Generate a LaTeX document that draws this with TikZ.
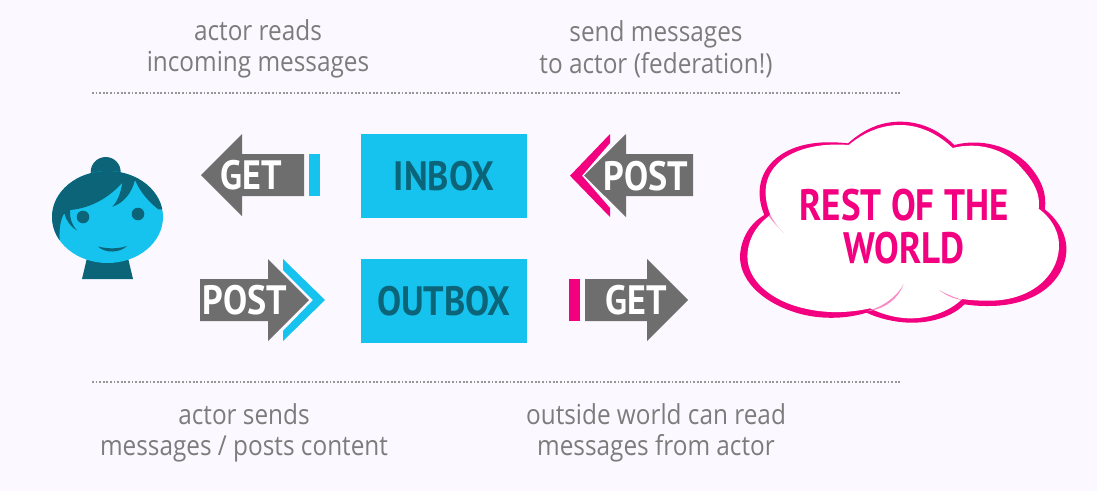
\documentclass[tikz,border=0pt]{standalone}
\usepackage{fontspec}
\setmainfont{Open Sans}
\newfontfamily\labelfont[FakeStretch=0.885]{Open Sans}
\newfontfamily\boldfont[FakeStretch=0.88]{PT Sans Bold}
\newfontfamily\cloudfont[FakeStretch=0.84]{PT Sans Bold}
\definecolor{bgc}{HTML}{FBF9FF}
\definecolor{cyanc}{HTML}{15C3EE}
\definecolor{tealc}{HTML}{0B6478}
\definecolor{pinkc}{HTML}{F2007F}
\definecolor{grayc}{HTML}{6E6E6E}
\definecolor{textc}{HTML}{7C7C7C}
\tikzset{
  caption/.style={text=textc,align=center,inner sep=0pt,font=\labelfont\fontsize{27.5}{31.5}\selectfont},
  boxlabel/.style={fill=cyanc,minimum width=166pt,minimum height=84pt,inner sep=0pt,text=tealc,font=\boldfont\fontsize{41}{41}\selectfont},
  arrowlabel/.style={text=white,inner sep=0pt,font=\boldfont\fontsize{41}{41}\selectfont},
  rule/.style={draw=textc!80,line width=1.7pt,dash pattern=on 1.7pt off 1.9pt},
  lobeline/.style={fill=pinkc!45,draw=none}
}
\begin{document}
\begin{tikzpicture}[x=1pt,y=-1pt]
\useasboundingbox (0,0) rectangle (1097,491);
\fill[bgc] (0,0) rectangle (1097,491);

% captions
\node[caption] (c1) at (258,49) {actor reads\\incoming messages};
\node[caption] (c2) at (656,49) {send messages\\to actor (federation!)};
\node[caption] (c3) at (244,433) {actor sends\\messages / posts content};
\node[caption] (c4) at (656,433) {outside world can read\\messages from actor};
\coordinate (r1a) at (92,93); \coordinate (r1b) at (900,93);
\coordinate (r2a) at (92,382); \coordinate (r2b) at (900,382);
\draw[rule] (r1a) -- (r1b);
\draw[rule] (r2a) -- (r2b);

% actor
\fill[tealc] (87,258) -- (82,279) -- (133,279) -- (128,258) -- cycle;
\fill[tealc] (105.7,172) circle (15);
\fill[cyanc] (107.5,217) ellipse (55.5 and 46);
\begin{scope}
  \clip (107.5,217) ellipse (55.5 and 46);
  \begin{scope}[shift={(30,130)},x=0.33333pt,y=-0.33333pt]
    \fill[tealc] (40,400) -- (90,345)
      .. controls (85,300) and (92,265) .. (103,250)
      .. controls (108,270) and (122,292) .. (142,302)
      .. controls (125,285) and (118,262) .. (120,240)
      .. controls (180,235) and (235,205) .. (277,158)
      .. controls (272,190) and (262,215) .. (247,230)
      .. controls (280,220) and (305,190) .. (315,150)
      .. controls (330,185) and (355,215) .. (385,238)
      -- (430,240) -- (420,50) -- (40,50) -- cycle;
  \end{scope}
\end{scope}
\fill[tealc] (83,217) circle (6.3);
\fill[tealc] (138,214) circle (6.3);
\fill[tealc] (98,246.5) .. controls (108,249) and (118,249) .. (127,246)
  .. controls (120,253) and (105,253.5) .. (98,246.5) -- cycle;

% boxes
\node[boxlabel] (inbox) at (444,176) {INBOX};
\node[boxlabel] (outbox) at (444,301) {OUTBOX};

% left arrows
\fill[grayc] (201,175) -- (242,134) -- (242,154) -- (304,154) -- (304,196) -- (242,196) -- (242,216) -- cycle;
\fill[cyanc] (309,154) rectangle (320,196);
\node[arrowlabel] (get1) at (251,175.5) {GET};

\fill[grayc] (200,279) -- (268,279) -- (268,259) -- (309,300) -- (268,341) -- (268,321) -- (200,321) -- cycle;
\fill[cyanc] (283,259) -- (325,300) -- (283,341) -- (283,331) -- (313,300) -- (283,270) -- cycle;
\node[arrowlabel] (post1) at (245,300.5) {POST};

% right arrows
\fill[pinkc] (610,134) -- (570,175.7) -- (610,217) -- (610,208) -- (582,175.7) -- (610,143) -- cycle;
\fill[grayc] (584,175.5) -- (626,134) -- (626,154) -- (693,154) -- (693,196) -- (626,196) -- (626,217) -- cycle;
\node[arrowlabel] (post2) at (646,176) {POST};

\fill[pinkc] (569,279) rectangle (580,321);
\fill[grayc] (585,279) -- (647,279) -- (647,259) -- (688,300) -- (647,341) -- (647,321) -- (585,321) -- cycle;
\node[arrowlabel] (get2) at (636,300.5) {GET};

% cloud
\begin{scope}[shift={(551,110)},x=0.3375pt,y=-0.33333pt]
  \fill[pinkc] (880,100)
    .. controls (930,55) and (980,35) .. (1035,35)
    .. controls (1095,35) and (1150,60) .. (1195,105)
    .. controls (1270,85) and (1360,105) .. (1415,165)
    .. controls (1455,210) and (1470,255) .. (1463,298)
    .. controls (1510,335) and (1530,385) .. (1527,425)
    .. controls (1522,510) and (1440,590) .. (1290,588)
    .. controls (1265,588) and (1245,586) .. (1225,583)
    .. controls (1190,620) and (1125,640) .. (1060,638)
    .. controls (1015,636) and (970,625) .. (935,608)
    .. controls (880,625) and (810,630) .. (740,612)
    .. controls (640,585) and (560,520) .. (560,440)
    .. controls (562,385) and (590,340) .. (632,315)
    .. controls (605,250) and (615,180) .. (680,135)
    .. controls (735,97) and (810,92) .. (880,100) -- cycle;
  \fill[white] (882,105)
    .. controls (930,65) and (980,45) .. (1035,45)
    .. controls (1090,45) and (1145,70) .. (1190,114)
    .. controls (1265,95) and (1345,115) .. (1395,175)
    .. controls (1435,220) and (1450,255) .. (1445,296)
    .. controls (1490,330) and (1508,375) .. (1505,415)
    .. controls (1500,500) and (1420,575) .. (1290,572)
    .. controls (1265,572) and (1240,570) .. (1218,567)
    .. controls (1180,605) and (1120,626) .. (1060,625)
    .. controls (1020,624) and (980,612) .. (945,595)
    .. controls (880,610) and (810,610) .. (750,595)
    .. controls (650,572) and (582,510) .. (582,440)
    .. controls (582,390) and (608,345) .. (650,315)
    .. controls (625,250) and (630,190) .. (690,145)
    .. controls (745,108) and (815,100) .. (882,105) -- cycle;
  \fill[lobeline] (650,315) .. controls (660,335) and (672,352) .. (690,368)
    .. controls (672,350) and (656,335) .. (645,318) -- cycle;
  \fill[lobeline] (1045,522) .. controls (1025,560) and (985,590) .. (935,604)
    .. controls (990,598) and (1030,565) .. (1045,522) -- cycle;
  \fill[lobeline] (1150,540) .. controls (1170,552) and (1195,562) .. (1220,570)
    .. controls (1195,568) and (1170,556) .. (1150,540) -- cycle;
\end{scope}
\node[text=pinkc,align=center,inner sep=0pt,font=\cloudfont\fontsize{44}{43}\selectfont] (world) at (904,227) {REST OF THE\\WORLD};
\end{tikzpicture}
\end{document}
